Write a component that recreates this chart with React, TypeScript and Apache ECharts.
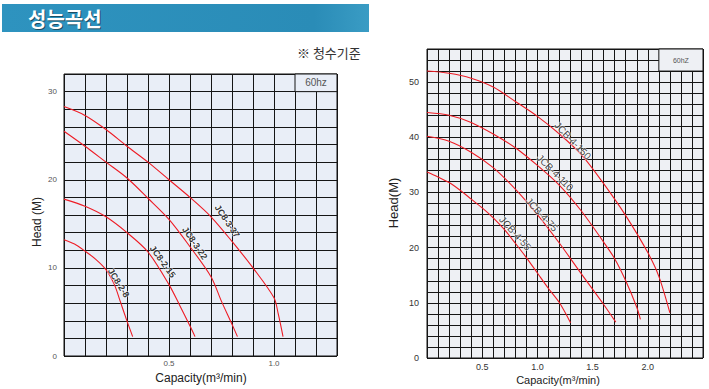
import React, { useEffect, useRef } from "react";
import * as echarts from "echarts";

// ---- Left chart (JC8 series) : capacity m3/min, head m ----
const jc8_3_37: [number, number][] = [[0, 28.3], [0.1, 27.3], [0.2, 25.7], [0.3, 23.8], [0.4, 22.0], [0.5, 20.0], [0.6, 18.0], [0.7, 15.8], [0.8, 13.0], [0.9, 10.0], [1.0, 6.6], [1.02, 4.8], [1.043, 2.2]];
const jc8_3_22: [number, number][] = [[0, 25.5], [0.1, 23.8], [0.2, 22.0], [0.3, 20.2], [0.4, 17.9], [0.5, 15.5], [0.6, 12.4], [0.7, 9.0], [0.75, 6.2], [0.8, 3.6], [0.826, 2.2]];
const jc8_2_15: [number, number][] = [[0, 17.8], [0.1, 17.0], [0.2, 15.8], [0.3, 14.0], [0.4, 11.8], [0.5, 8.1], [0.55, 5.8], [0.6, 3.4], [0.624, 2.2]];
const jc8_2_8: [number, number][] = [[0, 13.2], [0.05, 12.7], [0.1, 11.9], [0.15, 11.0], [0.2, 9.8], [0.24, 8.1], [0.265, 6.4], [0.298, 4.1], [0.327, 2.2]];

// label: name, capacity, head, rotation(deg)
const leftLabels: [string, number, number, number][] = [
  ["JC8-3-37", 0.777, 15.3, -56],
  ["JC8-3-22", 0.623, 12.8, -56],
  ["JC8-2-15", 0.47, 10.7, -54],
  ["JC8-2-8", 0.26, 8.3, -58],
];

// ---- Right chart (JCB series) ----
const jcb_4_150: [number, number][] = [[0, 52.0], [0.2, 51.6], [0.4, 50.7], [0.6, 49.1], [0.8, 46.5], [1.0, 43.8], [1.2, 40.6], [1.4, 36.8], [1.6, 31.6], [1.8, 25.8], [2.0, 19.1], [2.1, 14.8], [2.2, 8.2]];
const jcb_4_110: [number, number][] = [[0, 44.5], [0.2, 44.0], [0.4, 42.7], [0.6, 40.6], [0.8, 38.1], [1.0, 34.9], [1.2, 31.3], [1.4, 26.6], [1.6, 21.0], [1.7, 18.0], [1.8, 14.0], [1.9, 9.2], [1.933, 7.0]];
const jcb_4_75: [number, number][] = [[0, 40.2], [0.2, 39.3], [0.4, 37.3], [0.6, 34.5], [0.8, 30.6], [1.0, 26.0], [1.2, 20.8], [1.4, 15.2], [1.6, 9.7], [1.71, 6.5]];
const jcb_4_55: [number, number][] = [[0, 33.7], [0.1, 32.8], [0.2, 31.8], [0.3, 30.4], [0.4, 28.8], [0.5, 27.2], [0.6, 25.4], [0.7, 23.3], [0.8, 20.8], [0.9, 18.2], [1.0, 15.4], [1.1, 12.6], [1.2, 10.0], [1.3, 6.4]];

const rightLabels: [string, number, number, number][] = [
  ["JCB-4-150", 1.32, 39.4, -46],
  ["JCB-4-110", 1.16, 33.6, -45],
  ["JCB-4-75", 1.04, 26.0, -47],
  ["JCB-4-55", 0.8, 22.6, -48],
];

const leftXTicks = ["0.5", "1.0"];
const rightXTicks = ["0.5", "1.0", "1.5", "2.0"];
const leftYTicks = ["0", "10", "20", "30"];
const rightYTicks = ["0", "10", "20", "30", "40", "50"];

const FONT = 'Arial, "Liberation Sans", sans-serif';
const RED = "#ee1c25";
const GRIDLINE = "#151515";

function curve(name: string, data: [number, number][], idx: number) {
  return {
    name,
    type: "line",
    xAxisIndex: idx,
    yAxisIndex: idx,
    data,
    smooth: 0.3,
    showSymbol: false,
    silent: true,
    z: 3,
    lineStyle: { color: RED, width: 1.1 },
  };
}

function labelSeries(labels: [string, number, number, number][], idx: number, bold: boolean, color: string, size: number) {
  return {
    type: "scatter",
    xAxisIndex: idx,
    yAxisIndex: idx,
    symbolSize: 0,
    silent: true,
    z: 4,
    data: labels.map(([n, x, y, r]) => ({
      name: n,
      value: [x, y],
      label: { rotate: r },
    })),
    label: {
      show: true,
      position: "inside",
      formatter: "{b}",
      fontFamily: FONT,
      fontSize: size,
      fontWeight: bold ? "bold" : "normal",
      color,
      textBorderColor: "rgba(255,255,255,0.75)",
      textBorderWidth: 1.5,
    },
  };
}

function boxSeries(idx: number, x0: number, y0: number, x1: number, y1: number, text: string, bg: string, size: number) {
  return {
    type: "line",
    xAxisIndex: idx,
    yAxisIndex: idx,
    data: [],
    silent: true,
    markArea: {
      silent: true,
      itemStyle: { color: bg, borderColor: GRIDLINE, borderWidth: 1 },
      label: {
        show: true,
        position: "inside",
        formatter: text,
        fontFamily: FONT,
        fontSize: size,
        color: "#555",
      },
      data: [[{ coord: [x0, y1] }, { coord: [x1, y0] }]],
    },
  };
}

export default function App() {
  const ref = useRef<HTMLDivElement>(null);
  useEffect(() => {
    if (!ref.current) return;
    const chart = echarts.init(ref.current, undefined, { renderer: "svg" });
    const xFmt = (ticks: string[]) => (v: number) => {
      const s = (Math.round(v * 10) / 10).toFixed(1);
      return ticks.indexOf(s) >= 0 ? s : "";
    };
    const yFmt = (ticks: string[]) => (v: number) => {
      const s = String(Math.round(v));
      return ticks.indexOf(s) >= 0 ? s : "";
    };
    const axisCommon = {
      type: "value",
      axisLine: { show: false },
      axisTick: { show: false },
      splitLine: { show: true, lineStyle: { color: GRIDLINE, width: 1 } },
    };
    const option: any = {
      animation: false,
      backgroundColor: "#ffffff",
      grid: [
        { left: 64, top: 74, width: 273, height: 282, show: true, backgroundColor: "#e9eef7", borderColor: GRIDLINE, borderWidth: 1 },
        { left: 427, top: 49, width: 276, height: 309, show: true, backgroundColor: "#eef0f4", borderColor: GRIDLINE, borderWidth: 1 },
      ],
      xAxis: [
        {
          ...axisCommon, gridIndex: 0, min: 0, max: 1.3, interval: 0.1,
          axisLabel: { formatter: xFmt(leftXTicks), fontSize: 8, color: "#555", fontFamily: FONT, margin: 3 },
        },
        {
          ...axisCommon, gridIndex: 1, min: 0, max: 2.5, interval: 0.1,
          axisLabel: { formatter: xFmt(rightXTicks), fontSize: 9, color: "#333", fontFamily: FONT, margin: 4 },
        },
      ],
      yAxis: [
        {
          ...axisCommon, gridIndex: 0, min: 0, max: 32, interval: 2,
          axisLabel: { formatter: yFmt(leftYTicks), fontSize: 8, color: "#555", fontFamily: FONT, margin: 7 },
        },
        {
          ...axisCommon, gridIndex: 1, min: 0, max: 56, interval: 2,
          axisLabel: { formatter: yFmt(rightYTicks), fontSize: 9, color: "#333", fontFamily: FONT, margin: 8 },
        },
      ],
      series: [
        curve("JC8-3-37", jc8_3_37, 0),
        curve("JC8-3-22", jc8_3_22, 0),
        curve("JC8-2-15", jc8_2_15, 0),
        curve("JC8-2-8", jc8_2_8, 0),
        labelSeries(leftLabels, 0, true, "#000", 9),
        boxSeries(0, 1.1, 30, 1.3, 32, "60hz", "#e9eef7", 10),
        curve("JCB-4-150", jcb_4_150, 1),
        curve("JCB-4-110", jcb_4_110, 1),
        curve("JCB-4-75", jcb_4_75, 1),
        curve("JCB-4-55", jcb_4_55, 1),
        labelSeries(rightLabels, 1, false, "#111", 10),
        boxSeries(1, 2.1, 52, 2.5, 56, "60hZ", "#eef0f4", 7),
      ],
      graphic: [
        {
          type: "rect",
          shape: { x: 2, y: 4, width: 367, height: 28 },
          style: {
            fill: new echarts.graphic.LinearGradient(0, 0, 1, 0, [
              { offset: 0, color: "#2e93bf" },
              { offset: 0.85, color: "#2a8cb7" },
              { offset: 1, color: "#3a9cc4" },
            ]),
          },
          silent: true,
        },
        {
          type: "text",
          x: 29, y: 19,
          style: {
            text: "성능곡선", x: 0, y: 0,
            font: 'bold 20px "Noto Sans CJK KR", sans-serif',
            fill: "#1d4d63", textVerticalAlign: "middle", verticalAlign: "middle",
          },
          silent: true,
        },
        {
          type: "text",
          x: 28, y: 18,
          style: {
            text: "성능곡선", x: 0, y: 0,
            font: 'bold 20px "Noto Sans CJK KR", sans-serif',
            fill: "#ffffff", textVerticalAlign: "middle", verticalAlign: "middle",
          },
          silent: true,
        },
        {
          type: "text",
          x: 297, y: 52,
          style: {
            text: "※ 청수기준", x: 0, y: 0,
            font: '13px "Noto Sans CJK KR", sans-serif',
            fill: "#333", textVerticalAlign: "middle", verticalAlign: "middle",
          },
          silent: true,
        },
        {
          type: "text",
          x: 37, y: 222, rotation: Math.PI / 2,
          style: {
            text: "Head (M)", x: 0, y: 0,
            font: "12px " + FONT, fill: "#222",
            textAlign: "center", align: "center", textVerticalAlign: "middle", verticalAlign: "middle",
          },
          silent: true,
        },
        {
          type: "text",
          x: 201, y: 378,
          style: {
            text: "Capacity(m³/min)", x: 0, y: 0,
            font: "12px " + FONT, fill: "#222",
            textAlign: "center", align: "center", textVerticalAlign: "middle", verticalAlign: "middle",
          },
          silent: true,
        },
        {
          type: "text",
          x: 393, y: 203, rotation: Math.PI / 2,
          style: {
            text: "Head(M)", x: 0, y: 0,
            font: "13px " + FONT, fill: "#222",
            textAlign: "center", align: "center", textVerticalAlign: "middle", verticalAlign: "middle",
          },
          silent: true,
        },
        {
          type: "text",
          x: 558, y: 380,
          style: {
            text: "Capacity(m³/min)", x: 0, y: 0,
            font: "11px " + FONT, fill: "#222",
            textAlign: "center", align: "center", textVerticalAlign: "middle", verticalAlign: "middle",
          },
          silent: true,
        },
      ],
    };
    chart.setOption(option);
    return () => chart.dispose();
  }, []);
  return (
    <div
      ref={ref}
      style={{ position: "fixed", left: 0, top: 0, width: 709, height: 389, background: "#fff" }}
    />
  );
}
